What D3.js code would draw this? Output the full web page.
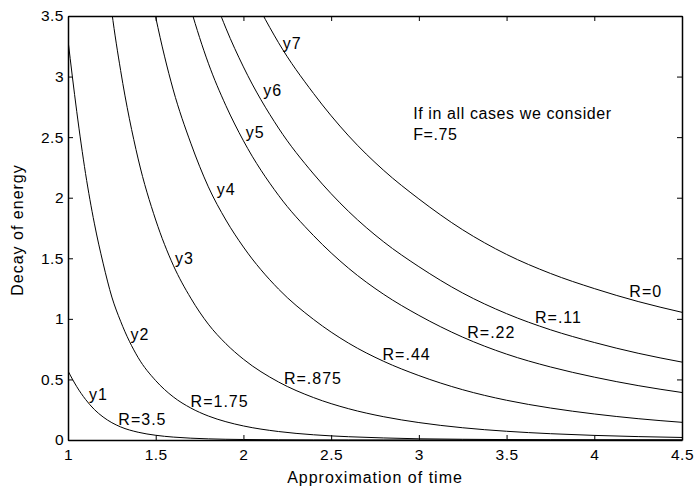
<!DOCTYPE html>
<html>
<head>
<meta charset="utf-8">
<script src="https://cdn.jsdelivr.net/npm/d3@7"></script>
<style>
  body { margin: 0; background: #fff; }
  text { font-family: "Liberation Sans", Arial, sans-serif; fill: #000; }
</style>
</head>
<body>
<div id="chart"></div>
<script>
// time samples (x axis)
var times = [1, 1.05, 1.1, 1.15, 1.2, 1.25, 1.3, 1.4, 1.5, 1.6, 1.7, 1.8, 1.9,
  2, 2.2, 2.4, 2.6, 2.8, 3, 3.25, 3.5, 3.75, 4, 4.25, 4.5];

// decay of energy (null = above the plot)
var y1 = [0.57, 0.44, 0.335, 0.252, 0.19, 0.143, 0.108, 0.064, 0.039, 0.024, 0.015, 0.0095, 0.006,
  0.004, 0.0017, 0.0007, 0.0003, 0.0001, 0, 0, 0, 0, 0, 0, 0];
var y2 = [3.30, 2.71, 2.20, 1.79, 1.46, 1.18, 0.98, 0.68, 0.49, 0.356, 0.264, 0.198, 0.151,
  0.116, 0.070, 0.043, 0.027, 0.017, 0.010, 0.006, 0.0034, 0.0019, 0.0011, 0.0007, 0.0004];
var y3 = [null, null, null, null, 4.16, 3.53, 3.05, 2.32, 1.816, 1.443, 1.171, 0.956, 0.795,
  0.667, 0.479, 0.350, 0.258, 0.192, 0.144, 0.101, 0.072, 0.052, 0.038, 0.028, 0.021];
var y4 = [null, null, null, null, null, null, null, 4.27, 3.49, 2.89, 2.45, 2.09, 1.816,
  1.593, 1.246, 0.995, 0.799, 0.649, 0.532, 0.415, 0.328, 0.264, 0.215, 0.176, 0.146];
var y5 = [null, null, null, null, null, null, null, null, null, 4.11, 3.56, 3.11, 2.76,
  2.47, 2.02, 1.687, 1.417, 1.202, 1.029, 0.849, 0.709, 0.603, 0.519, 0.449, 0.392];
var y6 = [null, null, null, null, null, null, null, null, null, null, 4.30, 3.79, 3.40,
  3.08, 2.575, 2.196, 1.886, 1.635, 1.431, 1.213, 1.043, 0.910, 0.805, 0.716, 0.643];
var y7 = [null, null, null, null, null, null, null, null, null, null, null, null, 4.19,
  3.84, 3.28, 2.86, 2.51, 2.225, 1.99, 1.735, 1.532, 1.375, 1.25, 1.143, 1.054];

var curveNames = ["y1", "y2", "y3", "y4", "y5", "y6", "y7"];
var rLabels = ["R=3.5", "R=1.75", "R=.875", "R=.44", "R=.22", "R=.11", "R=0"];
var xTicks = [1, 1.5, 2, 2.5, 3, 3.5, 4, 4.5];
var yTicks = [0, 0.5, 1, 1.5, 2, 2.5, 3, 3.5];
var noteLines = ["If in all cases we consider", "F=.75"];

var series = [y1, y2, y3, y4, y5, y6, y7];

// label anchors in data units (left edge, baseline)
var nameSpots = [[1.12, 0.33], [1.356, 0.825], [1.61, 1.453], [1.848, 2.022],
  [2.013, 2.497], [2.113, 2.84], [2.224, 3.224]];
var rSpots = [[1.287, 0.124], [1.699, 0.275], [2.231, 0.462], [2.793, 0.66],
  [3.276, 0.84], [3.662, 0.963], [4.2, 1.178]];
var noteSpot = [2.968, 2.65];

let width = 695;
let height = 490;
var margin = {top: 16, right: 13, bottom: 50, left: 68};
var plotW = width - margin.left - margin.right;
var plotH = height - margin.top - margin.bottom;

var svg = d3.select("#chart")
  .append("svg")
    .attr("width", width)
    .attr("height", height);

var g = svg.append("g")
  .attr("transform", "translate(" + margin.left + "," + margin.top + ")");

var x = d3.scaleLinear().domain([1, 4.5]).range([0, plotW]);
var y = d3.scaleLinear().domain([0, 3.5]).range([plotH, 0]);

svg.append("defs")
  .append("clipPath")
    .attr("id", "plot-clip")
  .append("rect")
    .attr("width", plotW)
    .attr("height", plotH);

var line = d3.line()
  .defined(function (d) { return d != null; })
  .x(function (d, i) { return x(times[i]); })
  .y(function (d) { return y(d); })
  .curve(d3.curveMonotoneX);

g.append("g")
  .attr("clip-path", "url(#plot-clip)")
  .selectAll("path")
  .data(series)
  .enter()
  .append("path")
    .attr("d", line)
    .attr("fill", "none")
    .attr("stroke", "#000")
    .attr("stroke-width", 1);

// axes, ticks pointing inward on all four sides
function styleAxis(sel) {
  sel.select(".domain").attr("stroke-width", 1.5);
  sel.selectAll(".tick line").attr("stroke-width", 1);
  sel.selectAll("text")
    .style("font-size", "15.5px")
    .style("letter-spacing", "0.5px")
    .attr("font-family", null);
}

g.append("g")
  .attr("transform", "translate(0," + plotH + ")")
  .call(d3.axisBottom(x).tickValues(xTicks).tickFormat(d3.format("")).tickSize(-5).tickSizeOuter(0).tickPadding(9))
  .call(styleAxis);

g.append("g")
  .call(d3.axisLeft(y).tickValues(yTicks).tickFormat(d3.format("")).tickSize(-5).tickSizeOuter(0).tickPadding(4))
  .call(styleAxis);

g.append("g")
  .call(d3.axisTop(x).tickValues(xTicks).tickFormat("").tickSize(-5).tickSizeOuter(0))
  .call(styleAxis);

g.append("g")
  .attr("transform", "translate(" + plotW + ",0)")
  .call(d3.axisRight(y).tickValues(yTicks).tickFormat("").tickSize(-5).tickSizeOuter(0))
  .call(styleAxis);

// curve names and R values
function addLabels(texts, spots) {
  g.append("g")
    .selectAll("text")
    .data(texts)
    .enter()
    .append("text")
      .attr("x", function (d, i) { return x(spots[i][0]); })
      .attr("y", function (d, i) { return y(spots[i][1]); })
      .style("font-size", "16px")
      .style("letter-spacing", "1px")
      .text(function (d) { return d; });
}

addLabels(curveNames, nameSpots);
addLabels(rLabels, rSpots);

g.append("text")
  .attr("x", x(noteSpot[0]))
  .attr("y", y(noteSpot[1]))
  .style("font-size", "16px")
  .style("letter-spacing", "0.6px")
  .selectAll("tspan")
  .data(noteLines)
  .enter()
  .append("tspan")
    .attr("x", x(noteSpot[0]))
    .attr("dy", function (d, i) { return i ? "21px" : 0; })
    .text(function (d) { return d; });

svg.append("text")
  .attr("x", margin.left + plotW / 2)
  .attr("y", 483)
  .attr("text-anchor", "middle")
  .style("font-size", "16px")
  .style("letter-spacing", "1px")
  .text("Approximation of time");

svg.append("text")
  .attr("transform", "translate(23," + (margin.top + plotH / 2 + 2) + ") rotate(-90)")
  .attr("text-anchor", "middle")
  .style("font-size", "16px")
  .style("letter-spacing", "1px")
  .text("Decay of energy");
</script>
</body>
</html>
